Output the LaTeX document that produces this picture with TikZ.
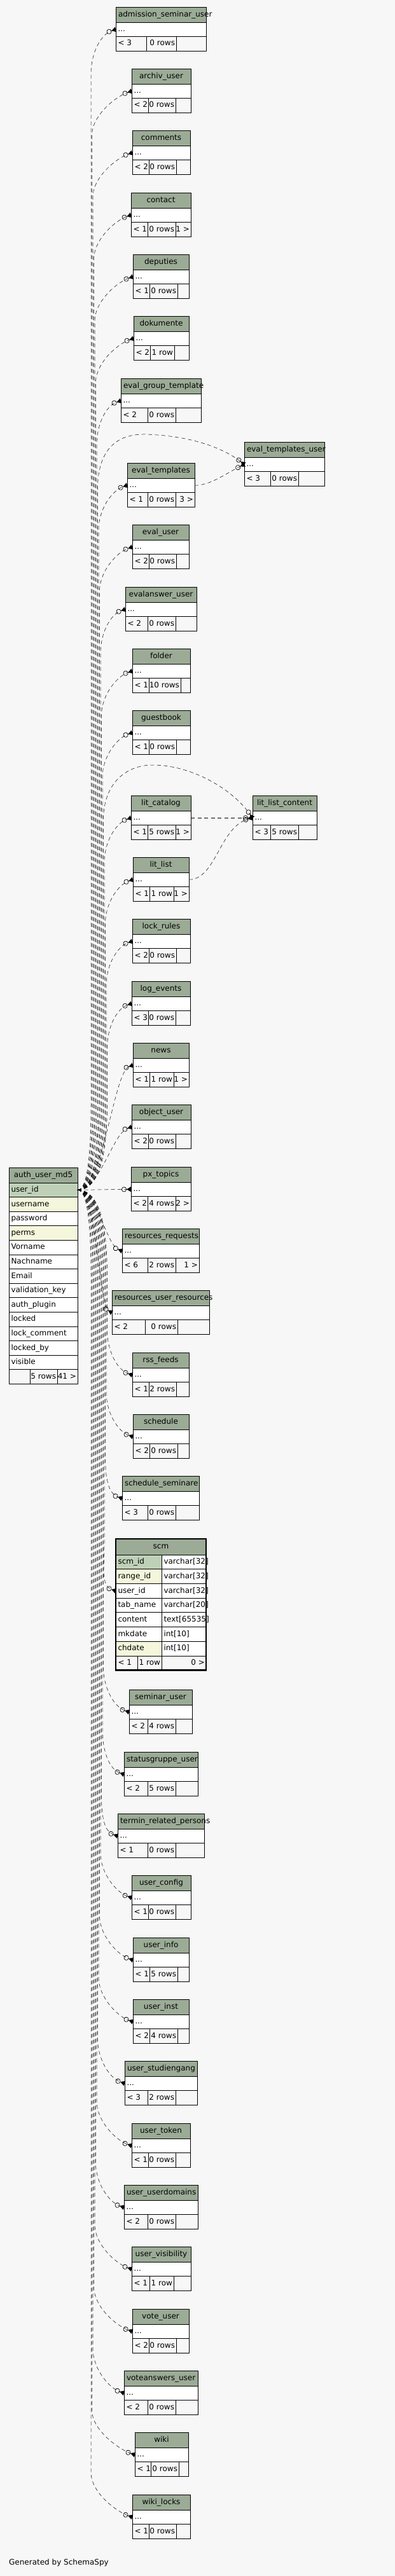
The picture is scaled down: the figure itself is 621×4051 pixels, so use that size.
\documentclass[tikz,border=0pt]{standalone}
\usepackage{fontspec}
\setmainfont{DejaVu Sans}
\usetikzlibrary{arrows.meta}
\definecolor{bgc}{HTML}{F7F7F7}
\definecolor{hdr}{HTML}{9BAB96}
\definecolor{pkc}{HTML}{BED1B8}
\definecolor{idx}{HTML}{F4F7DC}
\newcommand\stt{\rule[-3bp]{0pt}{12.5bp}}
\newcommand\ctext[2]{\hbox to #1{\stt\hskip 4bp plus 1fil\relax #2\hskip 4bp plus 1fil minus 1fil}}
\newcommand\ltext[2]{\hbox to #1{\stt\hskip 3.5bp\relax #2\hskip 0pt plus 1fil minus 1fil}}
\newcommand\rtext[2]{\hbox to #1{\stt\hskip 0pt plus 1fil minus 1fil\relax #2\hskip 2bp}}
\tikzset{
  cell/.style={draw=black, line width=0.8bp, inner sep=0pt, outer sep=0pt, anchor=north west,
    font=\fontsize{12bp}{14bp}\selectfont},
  fk/.style={line width=0.5bp, dash pattern=on 6bp off 4.5bp,
    -{Circle[open,length=8bp,width=8bp,line width=0.7bp] Triangle[reversed,length=7bp,width=8bp]}},
}
% name, x1, x2, ytop, d1, d2, n, rows, right cell
\newcommand\tablebox[9]{%
  \node[cell, fill=hdr, minimum width={(#3-#2)*1bp}, minimum height=24bp] (#1-h) at (#2,#4)
    {\ctext{\dimexpr#3bp-#2bp\relax}{\detokenize{#1}}};
  \node[cell, fill=white, minimum width={(#3-#2)*1bp}, minimum height=22.5bp] (#1-d) at (#2,#4+24)
    {\ltext{\dimexpr#3bp-#2bp\relax}{...}};
  \node[cell, fill=bgc, minimum width={(#5-#2)*1bp}, minimum height=22.5bp] (#1-f1) at (#2,#4+46.5)
    {\ltext{\dimexpr#5bp-#2bp\relax}{< #7}};
  \node[cell, fill=bgc, minimum width={(#6-#5)*1bp}, minimum height=22.5bp] (#1-f2) at (#5,#4+46.5)
    {\rtext{\dimexpr#6bp-#5bp\relax}{#8}};
  \node[cell, fill=bgc, minimum width={(#3-#6)*1bp}, minimum height=22.5bp] (#1-f3) at (#6,#4+46.5)
    {\rtext{\dimexpr#3bp-#6bp\relax}{#9}};
}
\newcommand\arow[4]{\node[cell, fill=#3, minimum width=108bp, minimum height=22.6bp] (auth-#1) at (14,#4) {\ltext{108bp}{#2}};}
\newcommand\srow[5]{%
  \node[cell, fill=#4, minimum width=72bp, minimum height=22.7bp] (scm-#1) at (182,#5) {\ltext{72bp}{#2}};
  \node[cell, fill=white, minimum width=70bp, minimum height=22.7bp] (scm-#1-t) at (254,#5) {\ltext{70bp}{#3}};}
% edges: target name, bundle x, target y
\newcommand\fkup[3]{\draw[fk] (auth-uid.east) .. controls +({(#2-122)*0.8},0) and (#2,1806) .. (#2,1736) -- (#2,#3+70) .. controls (#2,#3+38) and +(-24,8) .. (#1-d.west);}
\newcommand\fkdown[3]{\draw[fk] (auth-uid.east) .. controls +({(#2-122)*0.8},0) and (#2,1936) .. (#2,2006) -- (#2,#3-70) .. controls (#2,#3-38) and +(-24,-8) .. (#1-d.west);}
\begin{document}
\begin{tikzpicture}[x=1bp, y=-1bp]
\fill[bgc] (0,0) rectangle (621,4051);
\useasboundingbox (0,0) rectangle (621,4051);

\tablebox{admission_seminar_user}{182}{324}{11}{230}{277}{3}{0 rows}{}
\tablebox{archiv_user}{207}{300}{108}{233}{276}{2}{0 rows}{}
\tablebox{comments}{208}{299}{205}{234}{277}{2}{0 rows}{}
\tablebox{contact}{206}{300}{303}{232}{276}{1}{0 rows}{1 >}
\tablebox{deputies}{209}{297}{400}{235}{279}{1}{0 rows}{}
\tablebox{dokumente}{210}{297}{497}{236}{274}{2}{1 row}{}
\tablebox{eval_group_template}{190}{316}{595}{232}{276}{2}{0 rows}{}
\tablebox{eval_templates_user}{384}{510}{695}{425}{469}{3}{0 rows}{}
\tablebox{eval_templates}{200}{306}{728}{232}{276}{1}{0 rows}{3 >}
\tablebox{eval_user}{208}{297}{825}{234}{277}{2}{0 rows}{}
\tablebox{evalanswer_user}{197}{309}{923}{232}{276}{2}{0 rows}{}
\tablebox{folder}{208}{299}{1020}{234}{284}{1}{10 rows}{}
\tablebox{guestbook}{208}{299}{1117}{234}{277}{1}{0 rows}{}
\tablebox{lit_catalog}{206}{300}{1251}{232}{276}{1}{5 rows}{1 >}
\tablebox{lit_list_content}{397}{498}{1251}{425}{469}{3}{5 rows}{}
\tablebox{lit_list}{209}{297}{1348}{235}{273}{1}{1 row}{1 >}
\tablebox{lock_rules}{208}{299}{1445}{234}{277}{2}{0 rows}{}
\tablebox{log_events}{207}{299}{1543}{233}{276}{3}{0 rows}{}
\tablebox{news}{209}{297}{1640}{235}{273}{1}{1 row}{1 >}
\tablebox{object_user}{207}{300}{1737}{233}{276}{2}{0 rows}{}
\tablebox{px_topics}{206}{300}{1835}{232}{276}{2}{4 rows}{2 >}
\tablebox{resources_requests}{192}{313}{1932}{232}{276}{6}{2 rows}{1 >}
\tablebox{resources_user_resources}{176}{329}{2029}{228}{279}{2}{0 rows}{}
\tablebox{rss_feeds}{208}{297}{2127}{234}{277}{1}{2 rows}{}
\tablebox{schedule}{209}{297}{2224}{235}{279}{2}{0 rows}{}
\tablebox{schedule_seminare}{192}{313}{2321}{232}{276}{3}{0 rows}{}
\tablebox{seminar_user}{203}{302}{2657}{232}{276}{2}{4 rows}{}
\tablebox{statusgruppe_user}{195}{311}{2755}{232}{276}{2}{5 rows}{}
\tablebox{termin_related_persons}{185}{321}{2852}{232}{276}{1}{0 rows}{}
\tablebox{user_config}{207}{300}{2949}{233}{276}{1}{0 rows}{}
\tablebox{user_info}{209}{297}{3047}{235}{279}{1}{5 rows}{}
\tablebox{user_inst}{209}{297}{3144}{235}{279}{2}{4 rows}{}
\tablebox{user_studiengang}{196}{310}{3241}{232}{276}{3}{2 rows}{}
\tablebox{user_token}{207}{299}{3339}{233}{276}{1}{0 rows}{}
\tablebox{user_userdomains}{195}{311}{3436}{232}{276}{2}{0 rows}{}
\tablebox{user_visibility}{207}{300}{3533}{235}{273}{1}{1 row}{}
\tablebox{vote_user}{208}{297}{3631}{234}{277}{2}{0 rows}{}
\tablebox{voteanswers_user}{195}{311}{3728}{232}{276}{2}{0 rows}{}
\tablebox{wiki}{212}{296}{3825}{237}{281}{1}{0 rows}{}
\tablebox{wiki_locks}{208}{299}{3923}{234}{277}{1}{0 rows}{}

% auth_user_md5
\node[cell, fill=hdr, minimum width=108bp, minimum height=24bp] (auth-h) at (14,1836) {\ctext{108bp}{auth\_user\_md5}};
\arow{uid}{user\_id}{pkc}{1860}
\arow{uname}{username}{idx}{1882.6}
\arow{pw}{password}{white}{1905.2}
\arow{perms}{perms}{idx}{1927.8}
\arow{vn}{Vorname}{white}{1950.4}
\arow{nn}{Nachname}{white}{1973}
\arow{mail}{Email}{white}{1995.6}
\arow{vkey}{validation\_key}{white}{2018.2}
\arow{plug}{auth\_plugin}{white}{2040.8}
\arow{locked}{locked}{white}{2063.4}
\arow{lcom}{lock\_comment}{white}{2086}
\arow{lby}{locked\_by}{white}{2108.6}
\arow{vis}{visible}{white}{2131.2}
\node[cell, fill=bgc, minimum width=33bp, minimum height=22.6bp] (auth-f1) at (14,2153.8) {\ltext{33bp}{}};
\node[cell, fill=bgc, minimum width=43bp, minimum height=22.6bp] (auth-f2) at (47,2153.8) {\rtext{43bp}{5 rows}};
\node[cell, fill=bgc, minimum width=32bp, minimum height=22.6bp] (auth-f3) at (90,2153.8) {\rtext{32bp}{41 >}};

% scm
\node[cell, fill=hdr, minimum width=142bp, minimum height=25bp] (scm-h) at (182,2420) {\ctext{142bp}{scm}};
\srow{sid}{scm\_id}{varchar[32]}{pkc}{2445}
\srow{rid}{range\_id}{varchar[32]}{idx}{2467.7}
\srow{uid}{user\_id}{varchar[32]}{white}{2490.4}
\srow{tab}{tab\_name}{varchar[20]}{white}{2513.1}
\srow{cont}{content}{text[65535]}{white}{2535.8}
\srow{mk}{mkdate}{int[10]}{white}{2558.5}
\srow{ch}{chdate}{int[10]}{idx}{2581.2}
\node[cell, fill=bgc, minimum width=34bp, minimum height=22.7bp] (scm-f1) at (182,2603.9) {\ltext{34bp}{< 1}};
\node[cell, fill=bgc, minimum width=38bp, minimum height=22.7bp] (scm-f2) at (216,2603.9) {\rtext{38bp}{1 row}};
\node[cell, fill=bgc, minimum width=70bp, minimum height=22.7bp] (scm-f3) at (254,2603.9) {\rtext{70bp}{0 >}};
\draw[line width=2.6bp] (scm-h.north west) rectangle (scm-f3.south east);

% connectors going up
\fkup{admission_seminar_user}{143}{46}
\fkup{archiv_user}{144.5}{143}
\fkup{comments}{146}{240}
\fkup{contact}{147.5}{338}
\fkup{deputies}{149}{435}
\fkup{dokumente}{150.5}{532}
\fkup{eval_group_template}{152}{630}
\fkup{eval_templates}{155}{763}
\fkup{eval_user}{156.5}{860}
\fkup{evalanswer_user}{158}{958}
\fkup{folder}{159.5}{1055}
\fkup{guestbook}{161}{1152}
\fkup{lit_catalog}{164}{1286}
\fkup{lit_list}{165.5}{1383}
\fkup{lock_rules}{167}{1480}
\fkup{log_events}{168.5}{1578}
\draw[fk] (auth-uid.east) .. controls +(28,0) and (153.5,1806) .. (153.5,1736) -- (153.5,770)
  .. controls (153.5,700) and (190,682) .. (230,683) .. controls (290,685) and (345,700) .. (eval_templates_user-d.west);
\draw[fk] (eval_templates-d.east) .. controls +(25,0) and +(-30,15) .. (eval_templates_user-d.west);
\draw[fk] (auth-uid.east) .. controls +(32,0) and (162.5,1806) .. (162.5,1736) -- (162.5,1290)
  .. controls (162.5,1230) and (200,1203) .. (240,1203) .. controls (300,1203) and (365,1240) .. (lit_list_content-d.west);
\draw[fk] (lit_catalog-d.east) -- (lit_list_content-d.west);
\draw[fk] (lit_list-d.east) .. controls (340,1383) and (345,1300) .. (lit_list_content-d.west);
% near connectors
\draw[fk] (auth-uid.east) .. controls +(40,0) and +(-30,10) .. (news-d.west);
\draw[fk] (auth-uid.east) .. controls +(35,0) and +(-30,10) .. (object_user-d.west);
\draw[fk] (auth-uid.east) -- (px_topics-d.west);
\draw[fk] (auth-uid.east) .. controls +(30,0) and +(-25,-10) .. (resources_requests-d.west);
\draw[fk] (auth-uid.east) .. controls +(30,0) and +(-20,-12) .. (resources_user_resources-d.west);
% connectors going down
\fkdown{rss_feeds}{168.5}{2162}
\fkdown{schedule}{167}{2259}
\fkdown{schedule_seminare}{165.5}{2356}
\draw[fk] (auth-uid.east) .. controls +(34,0) and (164,1936) .. (164,2006) -- (164,2432) .. controls (164,2464) and +(-24,-8) .. (scm-uid.west);
\fkdown{seminar_user}{162.5}{2692}
\fkdown{statusgruppe_user}{161}{2790}
\fkdown{termin_related_persons}{159.5}{2887}
\fkdown{user_config}{158}{2984}
\fkdown{user_info}{156.5}{3082}
\fkdown{user_inst}{155}{3179}
\fkdown{user_studiengang}{153.5}{3276}
\fkdown{user_token}{152}{3374}
\fkdown{user_userdomains}{150.5}{3471}
\fkdown{user_visibility}{149}{3568}
\fkdown{vote_user}{147.5}{3666}
\fkdown{voteanswers_user}{146}{3763}
\fkdown{wiki}{144.5}{3860}
\fkdown{wiki_locks}{143}{3958}

\node[anchor=base west, inner sep=0pt, font=\fontsize{12bp}{14bp}\selectfont] (gen) at (14,4033) {Generated by SchemaSpy};
\end{tikzpicture}
\end{document}
